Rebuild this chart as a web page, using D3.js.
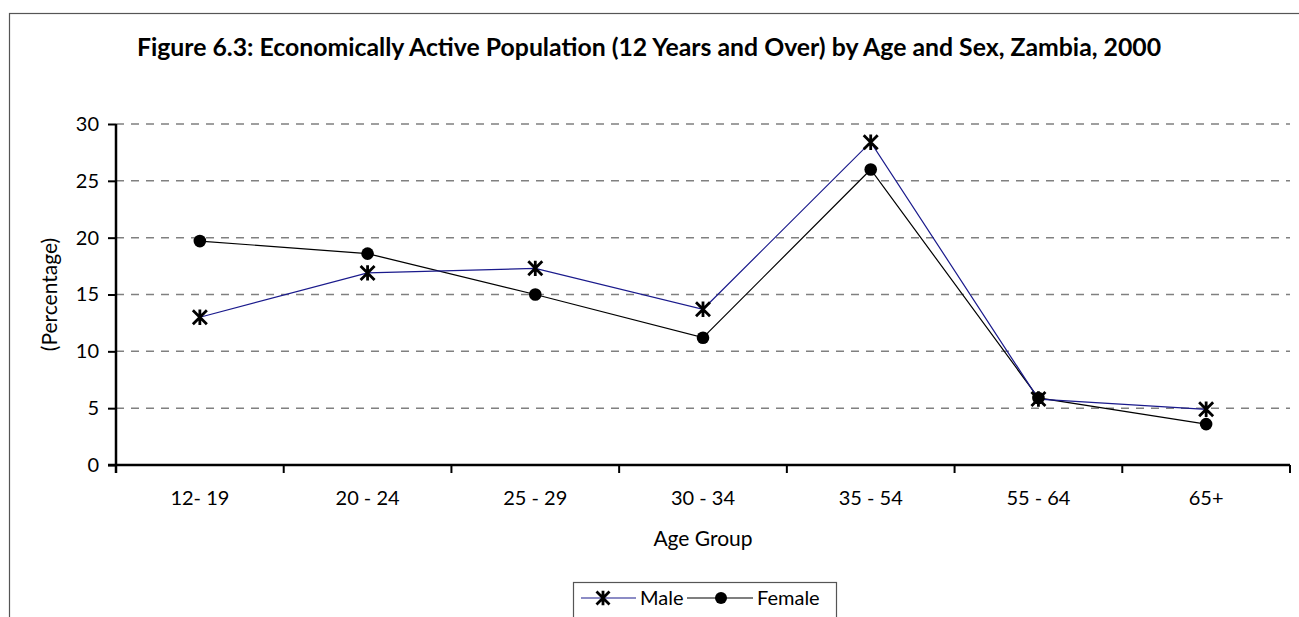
<!DOCTYPE html>
<html>
<head>
<meta charset="utf-8">
<script src="https://cdn.jsdelivr.net/npm/d3@7"></script>
<style>
html,body{margin:0;padding:0;background:#fff;}
svg{display:block;font-family:"Lato","Open Sans",sans-serif;}
</style>
</head>
<body>
<svg id="chart" width="1299" height="617"></svg>
<script>
const categories = ["12- 19","20 - 24","25 - 29","30 - 34","35 - 54","55 - 64","65+"];
const maleValues = [13.0,16.9,17.3,13.7,28.4,5.8,4.9];
const femaleValues = [19.7,18.6,15.0,11.2,26.0,5.9,3.6];
const yTicks = [0,5,10,15,20,25,30];
const titleText = "Figure 6.3: Economically Active Population (12 Years and Over) by Age and Sex, Zambia, 2000";

(function(){
const svg = d3.select("#chart");
const pLeft = 116, pRight = 1290, pTop = 124, pBottom = 465;
const fs = 20;
const ff = "Lato, Open Sans, sans-serif";

svg.append("rect").attr("x",9.5).attr("y",13.5).attr("width",1300).attr("height",700)
  .attr("fill","none").attr("stroke","#555").attr("stroke-width",1.2);

svg.append("text").attr("x",649).attr("y",56).attr("text-anchor","middle")
  .attr("font-weight","bold").attr("font-size",24.8).attr("fill","#000").text(titleText);

const x = d3.scaleBand().domain(categories).range([pLeft,pRight]).padding(0);
const y = d3.scaleLinear().domain([0,30]).range([pBottom,pTop]);

svg.append("g").selectAll("line").data(yTicks.filter(d=>d>0)).join("line")
  .attr("x1",pLeft).attr("x2",pRight).attr("y1",d=>y(d)).attr("y2",d=>y(d))
  .attr("stroke","#808080").attr("stroke-width",1.5).attr("stroke-dasharray","8,7");

const yAxis = svg.append("g").attr("transform",`translate(${pLeft},0)`)
  .call(d3.axisLeft(y).tickValues(yTicks).tickSize(8).tickPadding(9));
yAxis.select(".domain").attr("stroke","#000").attr("stroke-width",2.5).attr("d",`M0,${pBottom+8}V${pTop}`);
yAxis.selectAll(".tick line").attr("stroke","#000").attr("stroke-width",2);
yAxis.selectAll(".tick text").attr("font-size",fs).attr("fill","#000").attr("font-family",ff);

const xAxis = svg.append("g").attr("transform",`translate(0,${pBottom})`)
  .call(d3.axisBottom(x).tickSize(0).tickPadding(26));
xAxis.select(".domain").attr("stroke","#000").attr("stroke-width",2.5).attr("d",`M${pLeft-8},0H${pRight}`);
xAxis.selectAll(".tick text").attr("font-size",fs).attr("fill","#000").attr("font-family",ff);
const bounds = categories.map(c=>x(c)).concat([x(categories[categories.length-1])+x.bandwidth()]);
svg.append("g").selectAll("line").data(bounds).join("line")
  .attr("x1",d=>d).attr("x2",d=>d).attr("y1",pBottom).attr("y2",pBottom+8)
  .attr("stroke","#000").attr("stroke-width",2);

svg.append("text").attr("x",703).attr("y",546).attr("text-anchor","middle")
  .attr("font-size",21).attr("fill","#000").text("Age Group");
svg.append("text").attr("transform",`translate(57,${(pTop+pBottom)/2}) rotate(-90)`)
  .attr("text-anchor","middle").attr("font-size",21).attr("fill","#000").text("(Percentage)");

const cx = c => x(c) + x.bandwidth()/2;

function starPath(s){
  return `M${-s},${-s}L${s},${s}M${-s},${s}L${s},${-s}M0,${-s*1.1}L0,${s*1.1}`;
}

const line = d3.line().x((d,i)=>cx(categories[i])).y(d=>y(d));
svg.append("path").datum(femaleValues).attr("d",line).attr("fill","none")
  .attr("stroke","#000").attr("stroke-width",1.2);
svg.append("path").datum(maleValues).attr("d",line).attr("fill","none")
  .attr("stroke","#1a1a8c").attr("stroke-width",1.2);

svg.append("g").selectAll("circle").data(femaleValues).join("circle")
  .attr("cx",(d,i)=>cx(categories[i])).attr("cy",d=>y(d)).attr("r",6.3).attr("fill","#000");
svg.append("g").selectAll("path").data(maleValues).join("path")
  .attr("transform",(d,i)=>`translate(${cx(categories[i])},${y(d)})`)
  .attr("d",starPath(7)).attr("stroke","#000").attr("stroke-width",2.8).attr("fill","none");

const lg = svg.append("g");
lg.append("rect").attr("x",573.5).attr("y",582.5).attr("width",263).attr("height",60)
  .attr("fill","#fff").attr("stroke","#555").attr("stroke-width",1.2);
const ly = 598;
lg.append("line").attr("x1",581).attr("x2",636).attr("y1",ly).attr("y2",ly).attr("stroke","#1a1a8c").attr("stroke-width",1.2);
lg.append("path").attr("transform",`translate(603,${ly})`).attr("d",starPath(6.5)).attr("stroke","#000").attr("stroke-width",2.8);
lg.append("text").attr("x",640).attr("y",ly+7).attr("font-size",fs).attr("fill","#000").text("Male");
lg.append("line").attr("x1",687).attr("x2",753).attr("y1",ly).attr("y2",ly).attr("stroke","#000").attr("stroke-width",1.2);
lg.append("circle").attr("cx",721).attr("cy",ly).attr("r",6).attr("fill","#000");
lg.append("text").attr("x",757).attr("y",ly+7).attr("font-size",fs).attr("fill","#000").text("Female");
})();
</script>
</body>
</html>
